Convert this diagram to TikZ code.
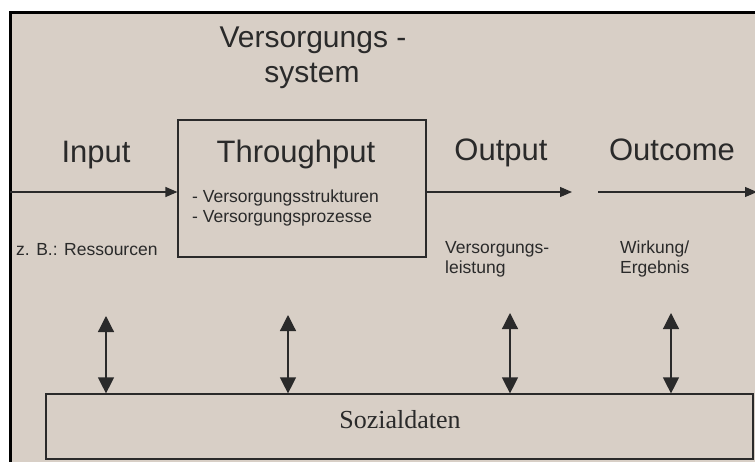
\documentclass[tikz,border=0pt]{standalone}
\usepackage{fontspec}
\setmainfont{Liberation Sans}
\newfontfamily\serifface{Liberation Serif}
\usetikzlibrary{arrows.meta}
\definecolor{paper}{HTML}{D8CFC6}
\definecolor{ink}{HTML}{2A2A2A}
\tikzset{
  big/.style={font=\fontsize{31}{35}\selectfont, text=ink, inner sep=0pt, anchor=base},
  small/.style={font=\fontsize{17.5}{20}\selectfont, text=ink, inner sep=0pt, anchor=base west},
  frame/.style={draw=ink, line width=1.2pt},
  harrow/.style={draw=ink, line width=1.2pt, -{Triangle[length=12pt,width=10pt]}},
  varrow/.style={draw=ink, line width=1.2pt, {Triangle[length=16pt,width=16pt]}-{Triangle[length=16pt,width=16pt]}}
}
\begin{document}
\begin{tikzpicture}[x=1pt,y=-1pt]
\useasboundingbox (0,0) rectangle (755,461);
\begin{scope}
\clip (0,0) rectangle (755,461);
\fill[white] (0,0) rectangle (755,461);
\fill[paper] (10,12) rectangle (760,470);
\draw[black, line width=3pt] (10,470) -- (10,12) -- (760,12);

% title
\node[big, font=\fontsize{30}{35}\selectfont] (title1) at (313,47) {Versorgungs -};
\node[big, font=\fontsize{30}{35}\selectfont] (title2) at (312,82) {system};

% throughput box
\node[frame, minimum width=248pt, minimum height=137pt, inner sep=0pt] (thrbox) at (302,188.5) {};
\node[big] (thr) at (296,162) {Throughput};
\node[small] (b1) at (192,202) {- Versorgungsstrukturen};
\node[small] (b2) at (192,222) {- Versorgungsprozesse};

% headings
\node[big] (input) at (96,162) {Input};
\node[big] (output) at (501,160) {Output};
\node[big] (outcome) at (672,160) {Outcome};

% small labels
\node[small] (zb) at (16,255) {z. B.: Ressourcen};
\node[small] (vl1) at (445,253) {Versorgungs-};
\node[small] (vl2) at (445,273) {leistung};
\node[small] (we1) at (620,253) {Wirkung/};
\node[small] (we2) at (620,273) {Ergebnis};

% horizontal arrows
\coordinate (inL) at (10,192);
\coordinate (outR) at (572,192);
\coordinate (ocL) at (598,192);
\coordinate (ocR) at (757,192);
\draw[harrow] (inL) -- (inL -| thrbox.west);
\draw[harrow] (outR -| thrbox.east) -- (outR);
\draw[harrow] (ocL) -- (ocR);

% Sozialdaten box
\node[frame, minimum width=707pt, minimum height=65pt, inner sep=0pt] (soz) at (399.5,426.5) {};
\node[font=\serifface\fontsize{26}{30}\selectfont, text=ink, inner sep=0pt, anchor=base] (sozt) at (400,428) {Sozialdaten};

% vertical double arrows
\coordinate (v1) at (106,316);
\coordinate (v2) at (288,315);
\coordinate (v3) at (510,313);
\coordinate (v4) at (671,313);
\draw[varrow] (v1) -- (v1 |- soz.north);
\draw[varrow] (v2) -- (v2 |- soz.north);
\draw[varrow] (v3) -- (v3 |- soz.north);
\draw[varrow] (v4) -- (v4 |- soz.north);
\end{scope}
\end{tikzpicture}
\end{document}
